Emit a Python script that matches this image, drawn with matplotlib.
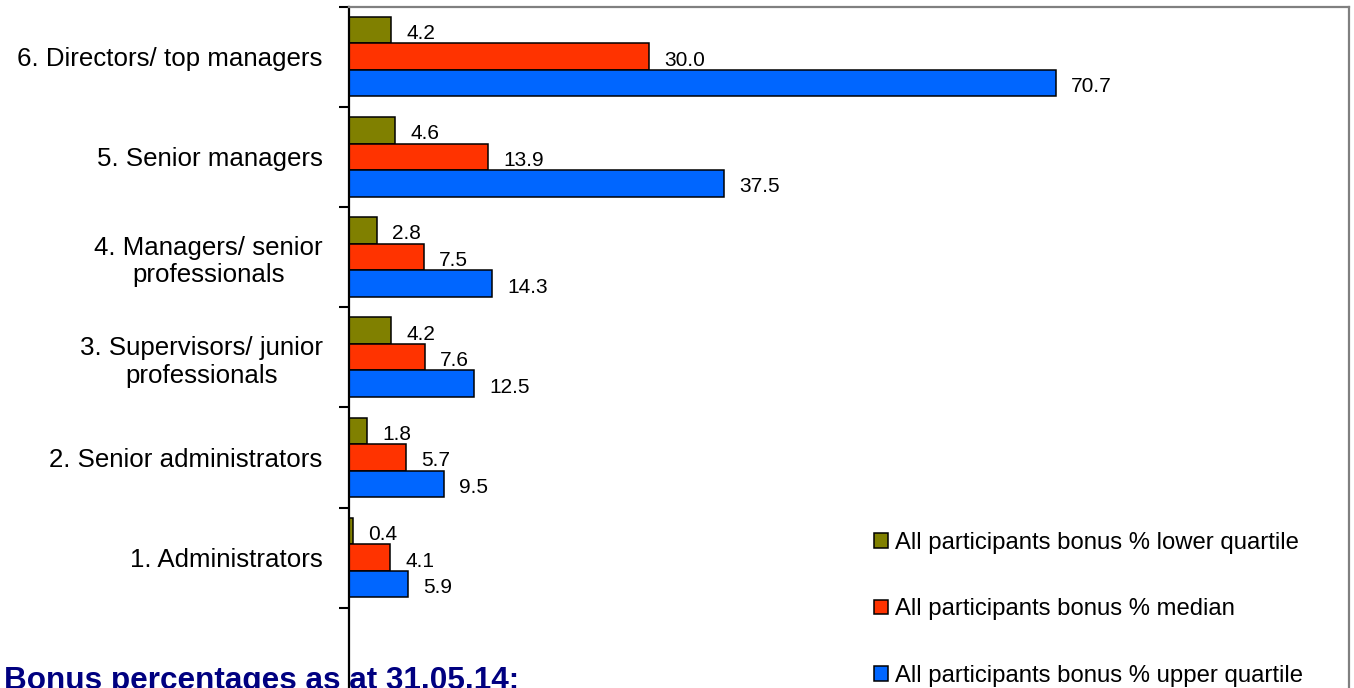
import numpy as np
import matplotlib
matplotlib.use("Agg")
import matplotlib.pyplot as plt
from matplotlib.patches import Patch

plt.rcParams['font.family'] = ['Liberation Sans', 'DejaVu Sans']

# job levels, bottom to top
levels = ['1. Administrators',
          '2. Senior administrators',
          '3. Supervisors/ junior\nprofessionals',
          '4. Managers/ senior\nprofessionals',
          '5. Senior managers',
          '6. Directors/ top managers']
lower_q = [0.4, 1.8, 4.2, 2.8, 4.6, 4.2]
median = [4.1, 5.7, 7.6, 7.5, 13.9, 30.0]
upper_q = [5.9, 9.5, 12.5, 14.3, 37.5, 70.7]

series = [('All participants bonus % lower quartile', lower_q, '#808000'),
          ('All participants bonus % median', median, '#FF3300'),
          ('All participants bonus % upper quartile', upper_q, '#0066FF')]

fig = plt.figure(figsize=(13.54, 6.88), dpi=100)
# plot area runs past the bottom edge (one empty slot below the last group)
ax = fig.add_axes([349 / 1354, 1 - 707.9 / 688, 1000 / 1354, 701.4 / 688])
ax.patch.set_visible(False)

pos = np.arange(1, len(levels) + 1)
h = 0.265
offsets = [h, 0, -h]
for (name, vals, col), off in zip(series, offsets):
    bars = ax.barh(pos + off, vals, height=h, color=col, edgecolor='black',
                   linewidth=1.1, label=name)
    for b, v in zip(bars, vals):
        ax.annotate('{:.1f}'.format(v), (b.get_width(), b.get_y() + b.get_height() / 2),
                    xytext=(11, -2.5), textcoords='offset points',
                    ha='left', va='center', fontsize=15)

ax.set_xlim(0, 100)
ax.set_ylim(-0.5, len(levels) + 0.5)

ax.set_yticks(pos)
ax.set_yticklabels(levels, fontsize=18.6)
for t in ax.get_yticklabels():
    t.set_multialignment('center')
ax.tick_params(axis='y', which='major', length=0, pad=19)
ax.set_yticks(np.arange(-0.5, len(levels) + 1), minor=True)
ax.tick_params(axis='y', which='minor', length=7, width=1.5, color='black')
ax.set_xticks([])

ax.spines['left'].set_linewidth(1.6)
ax.spines['left'].set_color('black')
for s in ['top', 'right']:
    ax.spines[s].set_color('#808080')
    ax.spines[s].set_linewidth(1.6)
ax.spines['bottom'].set_visible(False)

handles = [Patch(facecolor=c, edgecolor='black', linewidth=1.1) for _, _, c in series]
fig.legend(handles, [n for n, _, _ in series], loc='upper left',
           bbox_to_anchor=(874 / 1354, 1 - 532 / 688), frameon=False,
           fontsize=17.2, handlelength=0.58, handleheight=0.58,
           handletextpad=0.3, labelspacing=1.86, borderpad=0, borderaxespad=0)

fig.text(4 / 1354, 1 - 689 / 688, 'Bonus percentages as at 31.05.14:',
         fontsize=22.7, fontweight='bold', color='#000080',
         ha='left', va='baseline', zorder=-1)

fig.savefig('out.png', dpi=100)
